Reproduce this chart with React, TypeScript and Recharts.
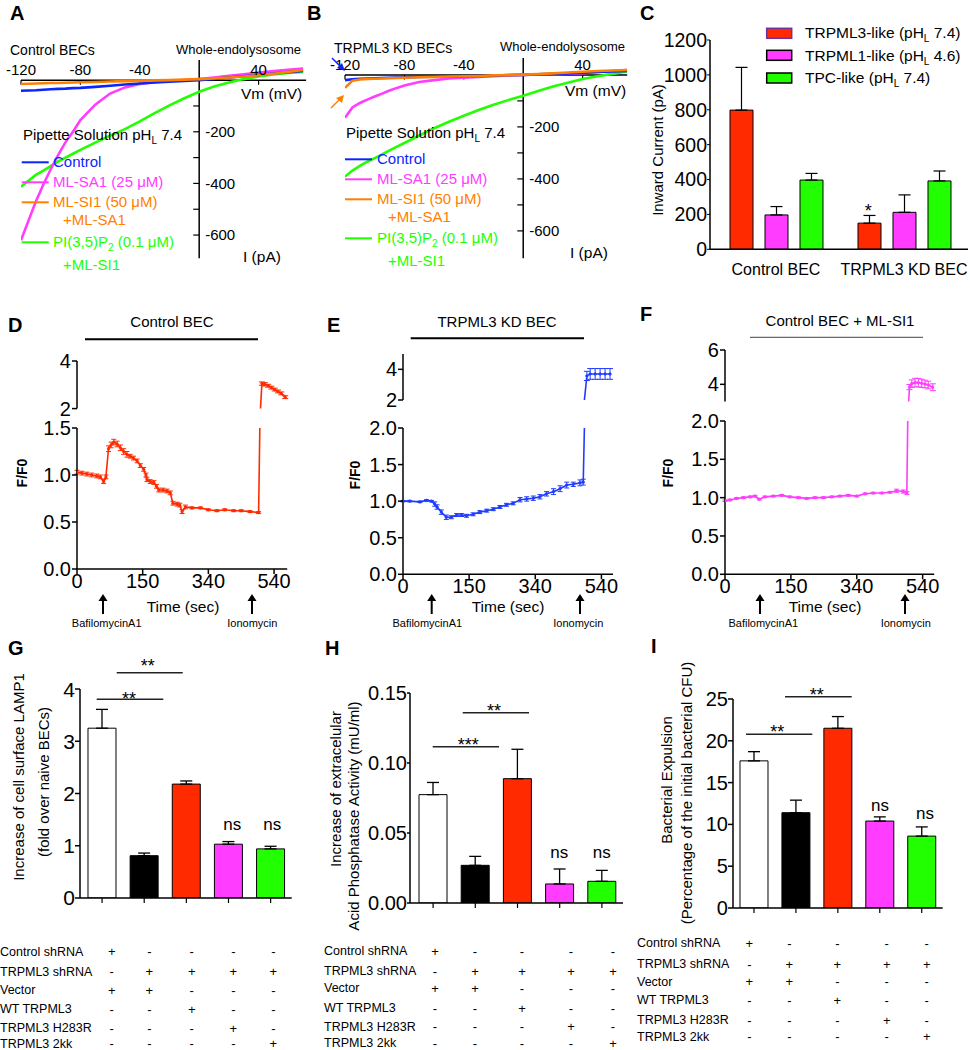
import React from 'react';
import {
  LineChart, Line, BarChart, Bar, XAxis, YAxis,
  ReferenceLine, ReferenceDot, ErrorBar, Cell,
} from 'recharts';

const FONT = '"Liberation Sans", Arial, Helvetica, sans-serif';
const RED = '#ff2a00';
const MAGENTA = '#ff3cff';
const GREEN = '#22ff00';
const BLUE = '#0a24ff';
const ORANGE = '#ff8000';

// ---- A / B : whole-endolysosome I-V, pipette pH 7.4 ----
const vm = [-120, -115, -110, -105, -100, -95, -90, -85, -80, -70, -60, -50, -40, -30, -20, -10, 0, 10, 20, 30, 40, 50, 60, 70];

const aControl = [-41, -40, -39, -37, -35, -34, -33, -31, -30, -26, -22, -17, -13, -9, -6, -3, 0, 5, 10, 15, 20, 26, 31, 36];
const aSA1 = [-620, -545, -470, -405, -345, -290, -240, -200, -155, -95, -52, -28, -15, -8, -3, 0, 4, 10, 17, 23, 29, 35, 40, 45];
const aSI1 = [-15, -14, -13, -12, -11, -11, -10, -9, -8, -7, -5, -4, -3, -1, 0, 2, 4, 7, 10, 14, 19, 25, 32, 39];
const aPIP2 = [-413, -390, -367, -350, -333, -315, -300, -285, -270, -242, -215, -190, -160, -128, -98, -70, -45, -25, -9, 4, 14, 22, 28, 32];

const bControl = [-20, -17, -15, -14, -13, -12, -11, -10, -10, -8, -7, -6, -5, -4, -3, -1, 0, 2, 4, 6, 8, 11, 13, 15];
const bSA1 = [-165, -125, -108, -95, -83, -72, -60, -50, -41, -27, -20, -14, -11, -8, -5, -2, 0, 2, 3, 5, 7, 11, 15, 19];
const bSI1 = [-50, -22, -18, -16, -15, -14, -13, -12, -11, -9, -8, -6, -5, -4, -2, -1, 1, 3, 6, 9, 12, 15, 17, 19];
const bPIP2 = [-391, -368, -350, -334, -320, -306, -290, -276, -262, -233, -205, -180, -157, -135, -115, -97, -80, -62, -45, -30, -16, -5, 4, 13];

const ivXTicks = [-120, -80, -40, 40];
const ivYTicks = [-100, -200, -300, -400, -500, -600];
const ivYLabels = [-200, -400, -600];

// ---- C : inward currents ----
const cGroups = ['Control BEC', 'TRPML3 KD BEC'];
const cTRPML3 = [798, 150];
const cTRPML3Err = [245, 44];
const cTRPML1 = [197, 212];
const cTRPML1Err = [48, 100];
const cTPC = [397, 392];
const cTPCErr = [38, 57];

// ---- D / E / F : lysosomal pH traces (frame index axis) ----
const frameTicks = [0, 200, 400, 600];
const timeLabels = ['0', '150', '340', '540'];

const dFrame = [0, 15, 30, 45, 60, 71, 81, 88, 96, 104, 112, 122, 132, 142, 152, 162, 172, 183, 193, 203, 210, 213, 223, 234, 242, 249, 262, 274, 284, 292, 305, 313, 320, 330, 350, 376, 400, 426, 450, 477, 500, 527, 553, 563, 572, 582, 592, 602, 612, 622, 634];
const dRatio = [1.03, 1.02, 1.01, 1.0, 0.99, 0.98, 0.93, 0.98, 1.28, 1.32, 1.35, 1.33, 1.29, 1.25, 1.22, 1.2, 1.18, 1.15, 1.1, 1.06, 1.0, 0.95, 0.93, 0.92, 0.88, 0.84, 0.84, 0.83, 0.81, 0.7, 0.69, 0.68, 0.61, 0.66, 0.65, 0.65, 0.63, 0.62, 0.63, 0.62, 0.62, 0.61, 0.6, 3.05, 3.02, 2.96, 2.88, 2.8, 2.72, 2.64, 2.48];
const dErr = [0.02, 0.02, 0.02, 0.02, 0.02, 0.02, 0.02, 0.02, 0.03, 0.03, 0.03, 0.03, 0.03, 0.03, 0.03, 0.02, 0.02, 0.02, 0.02, 0.02, 0.02, 0.02, 0.02, 0.02, 0.02, 0.02, 0.02, 0.02, 0.02, 0.02, 0.02, 0.02, 0.02, 0.02, 0.01, 0.01, 0.01, 0.01, 0.01, 0.01, 0.01, 0.01, 0.01, 0.07, 0.07, 0.06, 0.06, 0.06, 0.06, 0.06, 0.06];

const eFrame = [0, 20, 51, 71, 86, 96, 103, 116, 131, 146, 162, 177, 192, 212, 232, 253, 273, 293, 313, 333, 354, 374, 394, 414, 434, 455, 475, 495, 515, 535, 545, 556, 566, 581, 596, 611, 626];
const eRatio = [1.0, 1.0, 0.99, 1.01, 1.0, 0.96, 0.92, 0.85, 0.78, 0.78, 0.81, 0.81, 0.8, 0.82, 0.85, 0.87, 0.89, 0.92, 0.95, 0.97, 1.02, 1.03, 1.04, 1.06, 1.1, 1.13, 1.17, 1.22, 1.23, 1.25, 1.26, 3.57, 3.7, 3.7, 3.7, 3.7, 3.7];
const eErr = [0.01, 0.01, 0.01, 0.01, 0.01, 0.03, 0.03, 0.03, 0.03, 0.02, 0.02, 0.02, 0.02, 0.02, 0.02, 0.02, 0.02, 0.02, 0.02, 0.02, 0.03, 0.03, 0.03, 0.03, 0.03, 0.04, 0.04, 0.04, 0.03, 0.04, 0.04, 0.3, 0.35, 0.35, 0.35, 0.35, 0.35];

const fFrame = [0, 15, 35, 56, 76, 91, 104, 121, 147, 172, 197, 223, 248, 273, 299, 324, 349, 374, 400, 425, 450, 476, 501, 521, 541, 552, 560, 567, 577, 587, 597, 607, 617, 631];
const fRatio = [0.96, 0.97, 0.99, 1.0, 1.01, 1.02, 0.98, 1.01, 1.02, 1.03, 1.01, 1.0, 0.99, 1.0, 1.0, 1.01, 1.02, 1.03, 1.02, 1.05, 1.06, 1.06, 1.07, 1.09, 1.08, 1.06, 3.84, 4.04, 4.1, 4.1, 4.06, 4.02, 3.96, 3.83];
const fErr = [0.01, 0.01, 0.01, 0.01, 0.01, 0.01, 0.01, 0.01, 0.01, 0.01, 0.01, 0.01, 0.01, 0.01, 0.01, 0.01, 0.01, 0.01, 0.01, 0.01, 0.01, 0.01, 0.01, 0.02, 0.02, 0.02, 0.15, 0.22, 0.25, 0.25, 0.24, 0.22, 0.22, 0.2];

// ---- G / H / I : rescue experiments ----
const conditions = ['Ctrl shRNA + Vector', 'TRPML3 shRNA + Vector', 'TRPML3 shRNA + WT', 'TRPML3 shRNA + H283R', 'TRPML3 shRNA + 2kk'];
const condFills = ['#ffffff', '#000000', RED, MAGENTA, GREEN];
const gLamp1 = [3.25, 0.81, 2.18, 1.03, 0.94];
const gLamp1Err = [0.36, 0.05, 0.06, 0.05, 0.05];
const hAcp = [0.0774, 0.0269, 0.0888, 0.0136, 0.0155];
const hAcpErr = [0.0087, 0.0064, 0.021, 0.0107, 0.0078];
const iExpulsion = [17.6, 11.4, 21.5, 10.4, 8.6];
const iExpulsionErr = [1.1, 1.5, 1.4, 0.5, 1.1];

const tableRows = ['Control shRNA', 'TRPML3 shRNA', 'Vector', 'WT TRPML3', 'TRPML3 H283R', 'TRPML3 2kk'];
const tableSigns = [
  ['+', '-', '-', '-', '-'],
  ['-', '+', '+', '+', '+'],
  ['+', '+', '-', '-', '-'],
  ['-', '-', '+', '-', '-'],
  ['-', '-', '-', '+', '-'],
  ['-', '-', '-', '-', '+'],
];

// ---------------------------------------------------------------
function frame(b, yw, xh, pad = 12) {
  return {
    style: { position: 'absolute' as const, left: b.x0 - yw - pad, top: b.y0 - pad },
    width: b.x1 - b.x0 + yw + 2 * pad,
    height: b.y1 - b.y0 + xh + 2 * pad,
    margin: { top: pad, right: pad, bottom: pad, left: pad },
  };
}

const axisStyle = { stroke: '#000', strokeWidth: 1.5 };

function IVPanel({ box, xDomain, yDomain, ctl, sa1, si1, pip2 }) {
  const f = frame(box, 0, 0, 30);
  const data = vm.map((v, i) => ({ v, ctl: ctl[i], sa1: sa1[i], si1: si1[i], pip2: pip2[i] }));
  const lbl = { fontSize: 15, fill: '#000', fontFamily: FONT };
  return (
    <div style={f.style}>
      <LineChart width={f.width} height={f.height} margin={f.margin} data={data}>
        <XAxis type="number" dataKey="v" domain={xDomain} allowDataOverflow hide />
        <YAxis type="number" domain={yDomain} allowDataOverflow hide />
        <ReferenceLine y={0} stroke="#000" strokeWidth={1.5} />
        <ReferenceLine x={0} stroke="#000" strokeWidth={1.5} />
        {ivXTicks.map((t) => (
          <ReferenceLine key={`xt${t}`} segment={[{ x: t, y: 0 }, { x: t, y: -18 }]} stroke="#000" strokeWidth={1.2} />
        ))}
        {ivYTicks.map((t) => (
          <ReferenceLine key={`yt${t}`} segment={[{ x: -4, y: t }, { x: 0, y: t }]} stroke="#000" strokeWidth={1.2} />
        ))}
        {ivXTicks.map((t) => (
          <ReferenceDot key={`xl${t}`} x={t} y={0} r={0} fill="none" stroke="none"
            label={{ value: String(t), position: 'top', offset: 5, ...lbl }} />
        ))}
        {ivYLabels.map((t) => (
          <ReferenceDot key={`yl${t}`} x={0} y={t} r={0} fill="none" stroke="none"
            label={{ value: String(t), position: 'right', offset: 6, ...lbl }} />
        ))}
        <Line type="linear" dataKey="pip2" stroke={GREEN} strokeWidth={2.6} dot={false} isAnimationActive={false} />
        <Line type="linear" dataKey="sa1" stroke={MAGENTA} strokeWidth={2.6} dot={false} isAnimationActive={false} />
        <Line type="linear" dataKey="ctl" stroke={BLUE} strokeWidth={2.6} dot={false} isAnimationActive={false} />
        <Line type="linear" dataKey="si1" stroke={ORANGE} strokeWidth={2.6} dot={false} isAnimationActive={false} />
      </LineChart>
    </div>
  );
}

function CurrentsPanel() {
  const b = { x0: 710, y0: 40, x1: 968, y1: 249.3 };
  const f = frame(b, 55, 30);
  const data = cGroups.map((g, i) => ({
    g,
    ml3: cTRPML3[i], ml3e: [0, cTRPML3Err[i]],
    ml1: cTRPML1[i], ml1e: [0, cTRPML1Err[i]],
    tpc: cTPC[i], tpce: [0, cTPCErr[i]],
  }));
  return (
    <div style={f.style}>
      <BarChart width={f.width} height={f.height} margin={f.margin} data={data} barGap={12}>
        <XAxis dataKey="g" type="category" height={30} tickLine={false} tickSize={14} tickMargin={0}
          axisLine={axisStyle} padding={{ left: 2, right: 0 }}
          tick={{ fontSize: 16, fill: '#000', fontFamily: FONT }} interval={0} />
        <YAxis type="number" domain={[0, 1200]} ticks={[0, 200, 400, 600, 800, 1000, 1200]} width={55}
          allowDataOverflow axisLine={axisStyle} tickLine={{ stroke: '#000' }} tickSize={3} tickMargin={0}
          tick={{ fontSize: 19.5, fill: '#000', fontFamily: FONT }} />
        <Bar dataKey="ml3" fill={RED} stroke="#000" strokeWidth={1} barSize={23} isAnimationActive={false}>
          <ErrorBar dataKey="ml3e" width={6} stroke="#000" strokeWidth={1.2} />
        </Bar>
        <Bar dataKey="ml1" fill={MAGENTA} stroke="#000" strokeWidth={1} barSize={23} isAnimationActive={false}>
          <ErrorBar dataKey="ml1e" width={6} stroke="#000" strokeWidth={1.2} />
        </Bar>
        <Bar dataKey="tpc" fill={GREEN} stroke="#000" strokeWidth={1} barSize={23} isAnimationActive={false}>
          <ErrorBar dataKey="tpce" width={6} stroke="#000" strokeWidth={1.2} />
        </Bar>
      </BarChart>
    </div>
  );
}

function TracePanel({ frames, ratio, err, color, xMax, top, bottom }) {
  const botMax = bottom.domain[1];
  const topMin = top.domain[0];
  const data = frames.map((t, i) => ({
    t,
    r: ratio[i],
    eLo: ratio[i] <= botMax ? err[i] : null,
    eHi: ratio[i] >= topMin ? err[i] : null,
  }));
  const ft = frame(top.box, 40, 0);
  const fb = frame(bottom.box, 40, 30);
  const tick = { fontSize: 20, fill: '#000', fontFamily: FONT };
  const dot = { r: 1.3, fill: color, stroke: color, strokeWidth: 0.6 };
  return (
    <>
      <div style={ft.style}>
        <LineChart width={ft.width} height={ft.height} margin={ft.margin} data={data}>
          <XAxis type="number" dataKey="t" domain={[0, xMax]} allowDataOverflow hide />
          <YAxis type="number" domain={top.domain} ticks={top.ticks} allowDataOverflow width={40}
            axisLine={axisStyle} tickLine={{ stroke: '#000', strokeWidth: 1.5 }} tickSize={5} tickMargin={1} tick={tick} />
          <Line type="linear" dataKey="r" stroke={color} strokeWidth={1.6} dot={dot} isAnimationActive={false}>
            <ErrorBar dataKey="eHi" width={3} stroke={color} strokeWidth={1} />
          </Line>
        </LineChart>
      </div>
      <div style={fb.style}>
        <LineChart width={fb.width} height={fb.height} margin={fb.margin} data={data}>
          <XAxis type="number" dataKey="t" domain={[0, xMax]} allowDataOverflow ticks={frameTicks} interval={0}
            tickFormatter={(v) => timeLabels[frameTicks.indexOf(v)]} height={30}
            axisLine={axisStyle} tickLine={{ stroke: '#000', strokeWidth: 1.5 }} tickSize={5} tickMargin={0} tick={tick} />
          <YAxis type="number" domain={bottom.domain} ticks={bottom.ticks} allowDataOverflow width={40}
            tickFormatter={(v) => v.toFixed(1)}
            axisLine={axisStyle} tickLine={{ stroke: '#000', strokeWidth: 1.5 }} tickSize={5} tickMargin={1} tick={tick} />
          <Line type="linear" dataKey="r" stroke={color} strokeWidth={1.6} dot={dot} isAnimationActive={false}>
            <ErrorBar dataKey="eLo" width={2.5} stroke={color} strokeWidth={1} />
          </Line>
        </LineChart>
      </div>
    </>
  );
}

function RescuePanel({ box, values, errs, domain, ticks, yw, fmt, fontSize, tickSize, padLeft }) {
  const f = frame(box, yw, 10);
  const data = conditions.map((c, i) => ({ c, v: values[i], e: [0, errs[i]] }));
  return (
    <div style={f.style}>
      <BarChart width={f.width} height={f.height} margin={f.margin} data={data}>
        <XAxis dataKey="c" type="category" height={10} interval={0} tickFormatter={() => ''}
          axisLine={axisStyle} tickLine={{ stroke: '#000', strokeWidth: 1.2 }} tickSize={5}
          padding={{ left: padLeft, right: 0 }} />
        <YAxis type="number" domain={domain} ticks={ticks} allowDataOverflow width={yw} tickFormatter={fmt}
          axisLine={axisStyle} tickLine={{ stroke: '#000', strokeWidth: 1.5 }} tickSize={tickSize} tickMargin={0}
          tick={{ fontSize, fill: '#000', fontFamily: FONT }} />
        <Bar dataKey="v" barSize={28} stroke="#000" strokeWidth={1} isAnimationActive={false}>
          {condFills.map((c, i) => <Cell key={i} fill={c} />)}
          <ErrorBar dataKey="e" width={6} stroke="#000" strokeWidth={1.3} />
        </Bar>
      </BarChart>
    </div>
  );
}

// ---------------- static annotations ----------------
const UpArrow = ({ x, y1, y2 }) => (
  <g>
    <line x1={x} y1={y2} x2={x} y2={y1 + 6} stroke="#000" strokeWidth={2} />
    <polygon points={`${x - 4.5},${y1 + 7} ${x + 4.5},${y1 + 7} ${x},${y1}`} fill="#000" />
  </g>
);

const VLabel = ({ x, y, size = 15, weight = 'normal', children }) => (
  <text transform={`translate(${x},${y}) rotate(-90)`} textAnchor="middle" dominantBaseline="central"
    fontSize={size} fontWeight={weight}>{children}</text>
);

function IVLegend({ lx, tx, sx, pip, lines, texts, sub }) {
  const cols = [BLUE, MAGENTA, ORANGE, GREEN];
  return (
    <g fontSize={15}>
      <text x={pip[0]} y={pip[1]}>Pipette Solution pH<tspan dy={4} fontSize={10}>L</tspan><tspan dy={-4}>{'\u00a07.4'}</tspan></text>
      {lines.map((y, i) => (
        <line key={i} x1={lx} x2={lx + 27} y1={y} y2={y} stroke={cols[i]} strokeWidth={2} />
      ))}
      <text x={tx} y={texts[0]} fill={BLUE}>Control</text>
      <text x={tx} y={texts[1]} fill={MAGENTA}>ML-SA1 (25 μM)</text>
      <text x={tx} y={texts[2]} fill={ORANGE}>ML-SI1 (50 μM)</text>
      <text x={sx} y={sub[0]} fill={ORANGE}>+ML-SA1</text>
      <text x={tx} y={texts[3]} fill={GREEN}>PI(3,5)P<tspan dy={4} fontSize={10}>2</tspan><tspan dy={-4}>{'\u00a0(0.1 μM)'}</tspan></text>
      <text x={sx} y={sub[1]} fill={GREEN}>+ML-SI1</text>
    </g>
  );
}

function Table({ lx, rows, cols }) {
  return (
    <g fontSize={12.5}>
      {tableRows.map((r, i) => (
        <text key={r} x={lx} y={rows[i]} dominantBaseline="central">{r}</text>
      ))}
      {tableSigns.map((row, i) => row.map((s, j) => (
        <text key={`${i}-${j}`} x={cols[j]} y={rows[i]} textAnchor="middle" dominantBaseline="central" fontSize={13}>{s}</text>
      )))}
    </g>
  );
}

const Sig = ({ x1, x2, y, label, tx, ty }) => (
  <g>
    <line x1={x1} x2={x2} y1={y} y2={y} stroke="#222" strokeWidth={1.6} />
    <text x={tx} y={ty} textAnchor="middle" fontSize={18}>{label}</text>
  </g>
);

function Overlay() {
  return (
    <svg width={970} height={1050} style={{ position: 'absolute', left: 0, top: 0, pointerEvents: 'none' }}
      fontFamily={FONT} fill="#000">
      {/* panel letters */}
      <g fontSize={20} fontWeight="bold">
        <text x={10} y={20}>A</text>
        <text x={307} y={20}>B</text>
        <text x={640} y={20}>C</text>
        <text x={8} y={332}>D</text>
        <text x={327} y={332}>E</text>
        <text x={640} y={321}>F</text>
        <text x={8} y={655}>G</text>
        <text x={325} y={655}>H</text>
        <text x={651} y={653}>I</text>
      </g>

      {/* A */}
      <text x={10} y={55} fontSize={14}>Control BECs</text>
      <text x={176} y={54} fontSize={13}>Whole-endolysosome</text>
      <text x={241} y={99} fontSize={15.5}>Vm (mV)</text>
      <text x={243} y={262} fontSize={15.5}>I (pA)</text>
      <IVLegend lx={21.7} tx={53} sx={63} pip={[23, 140]} lines={[162.3, 182.3, 202.3, 242.3]}
        texts={[167, 187, 207, 247]} sub={[225, 270]} />

      {/* B */}
      <text x={334} y={53} fontSize={14}>TRPML3 KD BECs</text>
      <text x={500} y={51} fontSize={13}>Whole-endolysosome</text>
      <text x={565} y={96} fontSize={15.5}>Vm (mV)</text>
      <text x={570} y={258} fontSize={15.5}>I (pA)</text>
      <IVLegend lx={345} tx={377} sx={388} pip={[346, 138.3]} lines={[159.3, 179.3, 199.3, 238.3]}
        texts={[164, 184, 204, 243]} sub={[222, 266]} />
      <line x1={332} y1={58} x2={341} y2={67} stroke={BLUE} strokeWidth={1.5} />
      <polygon points="345,71 337,68 342,63" fill={BLUE} />
      <line x1={331} y1={108} x2={340} y2={99} stroke={ORANGE} strokeWidth={1.5} />
      <polygon points="344,95 342,103 336,98" fill={ORANGE} />

      {/* C */}
      <VLabel x={657} y={150}>Inward Current (pA)</VLabel>
      <text x={868.3} y={217} textAnchor="middle" fontSize={18}>*</text>
      <g fontSize={15.5}>
        <rect x={766.7} y={28.3} width={25} height={10} fill={RED} stroke="#7030a0" strokeWidth={1.5} />
        <rect x={766.7} y={50.3} width={25} height={10} fill={MAGENTA} stroke="#000" strokeWidth={1.5} />
        <rect x={766.7} y={73} width={25} height={10} fill={GREEN} stroke="#000" strokeWidth={1.5} />
        <text x={805} y={38}>TRPML3-like (pH<tspan dy={4} fontSize={10}>L</tspan><tspan dy={-4}>{'\u00a07.4)'}</tspan></text>
        <text x={805} y={60.5}>TRPML1-like (pH<tspan dy={4} fontSize={10}>L</tspan><tspan dy={-4}>{'\u00a04.6)'}</tspan></text>
        <text x={805} y={83}>TPC-like (pH<tspan dy={4} fontSize={10}>L</tspan><tspan dy={-4}>{'\u00a07.4)'}</tspan></text>
      </g>

      {/* D E F titles */}
      <text x={172} y={327} textAnchor="middle" fontSize={15}>Control BEC</text>
      <line x1={85} x2={258} y1={339.3} y2={339.3} stroke="#000" strokeWidth={2} />
      <text x={497} y={327} textAnchor="middle" fontSize={15}>TRPML3 KD BEC</text>
      <line x1={410.7} x2={584} y1={338.3} y2={338.3} stroke="#000" strokeWidth={2} />
      <text x={840} y={326} textAnchor="middle" fontSize={15}>Control BEC + ML-SI1</text>
      <line x1={750} x2={923} y1={337.3} y2={337.3} stroke="#444" strokeWidth={1} />

      <VLabel x={22} y={473} size={14} weight="bold">F/F0</VLabel>
      <VLabel x={355} y={475} size={14} weight="bold">F/F0</VLabel>
      <VLabel x={668} y={473} size={14} weight="bold">F/F0</VLabel>

      <text x={183} y={612} textAnchor="middle" fontSize={15.5}>Time (sec)</text>
      <text x={508} y={612} textAnchor="middle" fontSize={15.5}>Time (sec)</text>
      <text x={825} y={612} textAnchor="middle" fontSize={15.5}>Time (sec)</text>
      <UpArrow x={103} y1={594} y2={614} />
      <UpArrow x={252} y1={594} y2={614} />
      <UpArrow x={431.7} y1={594} y2={614} />
      <UpArrow x={580} y1={594} y2={614} />
      <UpArrow x={760} y1={594} y2={614} />
      <UpArrow x={905} y1={594} y2={614} />
      <g fontSize={11} textAnchor="middle">
        <text x={106.7} y={627}>BafilomycinA1</text>
        <text x={252.3} y={627}>Ionomycin</text>
        <text x={427.3} y={627}>BafilomycinA1</text>
        <text x={578.3} y={627}>Ionomycin</text>
        <text x={763.3} y={627}>BafilomycinA1</text>
        <text x={905.7} y={627}>Ionomycin</text>
      </g>

      {/* G */}
      <VLabel x={18} y={777}>Increase of cell surface LAMP1</VLabel>
      <VLabel x={43.5} y={782}>(fold over naive BECs)</VLabel>
      <Sig x1={96.7} x2={163.3} y={699.3} label="**" tx={129} ty={705} />
      <Sig x1={116.7} x2={182.7} y={672.7} label="**" tx={147.7} ty={672} />
      <g fontSize={17} textAnchor="middle">
        <text x={232.3} y={830}>ns</text>
        <text x={272.3} y={830}>ns</text>
      </g>
      <Table lx={0} rows={[951.7, 971.7, 990, 1009.3, 1028.3, 1043.5]} cols={[111.7, 149.3, 191.7, 233.3, 273.3]} />

      {/* H */}
      <VLabel x={335} y={789}>Increase of extracelular</VLabel>
      <VLabel x={353} y={816}>Acid Phosphatase Activity (mU/ml)</VLabel>
      <Sig x1={432.7} x2={499} y={746.7} label="***" tx={468.3} ty={750.5} />
      <Sig x1={462.7} x2={529} y={712.7} label="**" tx={494} ty={717} />
      <g fontSize={17} textAnchor="middle">
        <text x={559.3} y={858}>ns</text>
        <text x={601.7} y={858}>ns</text>
      </g>
      <Table lx={324} rows={[951, 971, 988.3, 1008.3, 1026.7, 1043]} cols={[435, 475, 522, 571, 613]} />

      {/* I */}
      <VLabel x={666} y={780}>Bacterial Expulsion</VLabel>
      <VLabel x={686} y={793}>(Percentage of the initial bacterial CFU)</VLabel>
      <Sig x1={746} x2={812.3} y={734.3} label="**" tx={777.3} ty={738} />
      <Sig x1={785} x2={851.7} y={696.7} label="**" tx={816.7} ty={700.5} />
      <g fontSize={17} textAnchor="middle">
        <text x={880} y={811}>ns</text>
        <text x={925} y={819}>ns</text>
      </g>
      <Table lx={637} rows={[943.3, 964.3, 981.7, 1000, 1020, 1036.7]} cols={[749.3, 789.3, 837.3, 886.7, 926.7]} />
    </svg>
  );
}

export default function App() {
  return (
    <div style={{ position: 'absolute', left: 0, top: 0, width: 970, height: 1050, background: '#fff', fontFamily: FONT, overflow: 'hidden' }}>
      <IVPanel box={{ x0: 20.7, y0: 59.9, x1: 305.8, y1: 258.2 }} xDomain={[-120, 72]} yDomain={[-690, 78]}
        ctl={aControl} sa1={aSA1} si1={aSI1} pip2={aPIP2} />
      <IVPanel box={{ x0: 345.1, y0: 58.1, x1: 627.3, y1: 258.3 }} xDomain={[-120, 70]} yDomain={[-705, 65]}
        ctl={bControl} sa1={bSA1} si1={bSI1} pip2={bPIP2} />
      <CurrentsPanel />

      <TracePanel frames={dFrame} ratio={dRatio} err={dErr} color={RED} xMax={640}
        top={{ box: { x0: 76.7, y0: 360.7, x1: 286.9, y1: 408.3 }, domain: [2, 4], ticks: [2, 4] }}
        bottom={{ box: { x0: 76.7, y0: 428.3, x1: 286.9, y1: 569.3 }, domain: [0, 1.5], ticks: [0, 0.5, 1, 1.5] }} />
      <TracePanel frames={eFrame} ratio={eRatio} err={eErr} color="#1f3cff" xMax={635}
        top={{ box: { x0: 403.3, y0: 354, x1: 613.3, y1: 400 }, domain: [2, 5], ticks: [2, 4] }}
        bottom={{ box: { x0: 403.3, y0: 427.7, x1: 613.3, y1: 574 }, domain: [0, 2], ticks: [0, 0.5, 1, 1.5, 2] }} />
      <TracePanel frames={fFrame} ratio={fRatio} err={fErr} color={MAGENTA} xMax={635}
        top={{ box: { x0: 725, y0: 350, x1: 934.2, y1: 401.5 }, domain: [3, 6], ticks: [4, 6] }}
        bottom={{ box: { x0: 725, y0: 420.7, x1: 934.2, y1: 574 }, domain: [0, 2], ticks: [0, 0.5, 1, 1.5, 2] }} />

      <RescuePanel box={{ x0: 80, y0: 689.3, x1: 291.7, y1: 898.3 }} values={gLamp1} errs={gLamp1Err}
        domain={[0, 4]} ticks={[0, 1, 2, 3, 4]} yw={40} fmt={(v) => String(v)} fontSize={21} tickSize={5} padLeft={1} />
      <RescuePanel box={{ x0: 410, y0: 693.3, x1: 623, y1: 903.3 }} values={hAcp} errs={hAcpErr}
        domain={[0, 0.15]} ticks={[0, 0.05, 0.1, 0.15]} yw={60} fmt={(v) => v.toFixed(2)} fontSize={20} tickSize={3} padLeft={2} />
      <RescuePanel box={{ x0: 733.3, y0: 699, x1: 943, y1: 908 }} values={iExpulsion} errs={iExpulsionErr}
        domain={[0, 25]} ticks={[0, 5, 10, 15, 20, 25]} yw={40} fmt={(v) => String(v)} fontSize={20} tickSize={5} padLeft={0} />

      <Overlay />
    </div>
  );
}
